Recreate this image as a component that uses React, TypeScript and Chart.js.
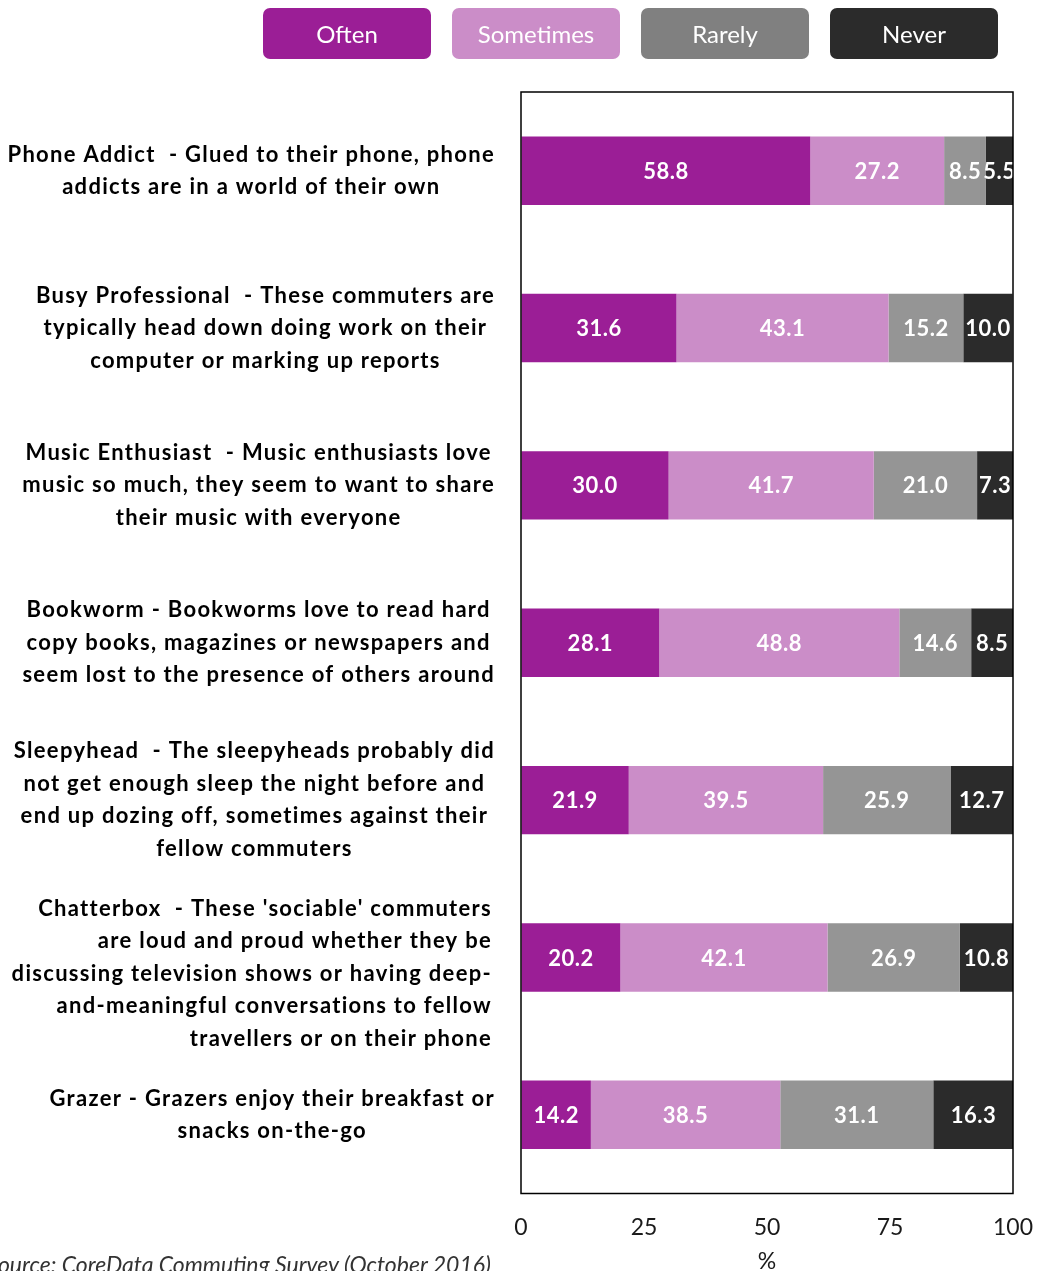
import React, { useEffect, useRef } from "react";
import { Chart, registerables } from "chart.js";
Chart.register(...registerables);

const categories: string[][] = [
  ["Phone Addict  - Glued to their phone, phone", "addicts are in a world of their own"],
  ["Busy Professional  - These commuters are", "typically head down doing work on their", "computer or marking up reports"],
  ["Music Enthusiast  - Music enthusiasts love", "music so much, they seem to want to share", "their music with everyone"],
  ["Bookworm - Bookworms love to read hard", "copy books, magazines or newspapers and", "seem lost to the presence of others around"],
  ["Sleepyhead  - The sleepyheads probably did", "not get enough sleep the night before and", "end up dozing off, sometimes against their", "fellow commuters"],
  ["", "Chatterbox  - These 'sociable' commuters", "are loud and proud whether they be", "discussing television shows or having deep-", "and-meaningful conversations to fellow", "travellers or on their phone"],
  ["Grazer - Grazers enjoy their breakfast or", "snacks on-the-go"],
];
const labelAlign = ["center", "center", "center", "center", "center", "right", "center"];

const often = [58.8, 31.6, 30.0, 28.1, 21.9, 20.2, 14.2];
const sometimes = [27.2, 43.1, 41.7, 48.8, 39.5, 42.1, 38.5];
const rarely = [8.5, 15.2, 21.0, 14.6, 25.9, 26.9, 31.1];
const never = [5.5, 10.0, 7.3, 8.5, 12.7, 10.8, 16.3];

const seriesNames = ["Often", "Sometimes", "Rarely", "Never"];
const barColors = ["#9B1E96", "#CB8DC8", "#959595", "#2B2B2B"];
const legendColors = ["#9B1E96", "#CB8DC8", "#808080", "#2B2B2B"];
const xTickValues = [0, 25, 50, 75, 100];
const axisTitle = "%";
const sourceText = "Source: CoreData Commuting Survey (October 2016)";

const CANVAS_W = 1038;
const CANVAS_H = 1280;

const framePlugin = {
  id: "frame",
  afterDraw(chart: any) {
    const { ctx, chartArea } = chart;
    ctx.save();
    ctx.strokeStyle = "#000";
    ctx.lineWidth = 1.5;
    ctx.strokeRect(chartArea.left, chartArea.top, chartArea.right - chartArea.left, chartArea.bottom - chartArea.top);
    ctx.restore();
  },
};

const valueLabelPlugin = {
  id: "valueLabels",
  afterDatasetsDraw(chart: any) {
    const { ctx, chartArea } = chart;
    ctx.save();
    ctx.beginPath();
    ctx.rect(chartArea.left, chartArea.top, chartArea.right - chartArea.left, chartArea.bottom - chartArea.top);
    ctx.clip();
    ctx.fillStyle = "#fff";
    ctx.font = "bold 22px Lato";
    try {
      (ctx as any).letterSpacing = "0.5px";
    } catch (e) {}
    ctx.textAlign = "center";
    ctx.textBaseline = "middle";
    chart.data.datasets.forEach((ds: any, di: number) => {
      const meta = chart.getDatasetMeta(di);
      meta.data.forEach((el: any, i: number) => {
        const v = ds.data[i];
        const cx = (el.x + el.base) / 2;
        ctx.fillText(Number(v).toFixed(1), cx, el.y + 1);
      });
    });
    ctx.restore();
  },
};

const yLabelPlugin = {
  id: "yLabels",
  afterDraw(chart: any) {
    const { ctx, chartArea } = chart;
    const yScale = chart.scales.y;
    ctx.save();
    ctx.fillStyle = "#000";
    ctx.font = "bold 22px Lato";
    try {
      (ctx as any).letterSpacing = "1.3px";
    } catch (e) {}
    ctx.textBaseline = "middle";
    const lineH = 32.5;
    const right = chartArea.left - 26;
    (chart.data.labels as string[][]).forEach((lines, i) => {
      const y = yScale.getPixelForTick(i);
      const top = y - ((lines.length - 1) * lineH) / 2;
      if (labelAlign[i] === "right") {
        ctx.textAlign = "right";
        lines.forEach((l, k) => ctx.fillText(l, right - 3, top + k * lineH));
      } else {
        ctx.textAlign = "center";
        const maxW = Math.max(...lines.map((l) => ctx.measureText(l).width));
        const cx = right - maxW / 2;
        lines.forEach((l, k) => ctx.fillText(l, cx, top + k * lineH));
      }
    });
    ctx.restore();
  },
};

export default function App() {
  const ref = useRef<HTMLCanvasElement | null>(null);

  useEffect(() => {
    if (!ref.current) return;
    const chart = new Chart(ref.current, {
      type: "bar",
      data: {
        labels: categories as any,
        datasets: [often, sometimes, rarely, never].map((d, i) => ({
          label: seriesNames[i],
          data: d,
          backgroundColor: barColors[i],
          borderWidth: 0,
          barPercentage: 0.435,
          categoryPercentage: 1,
        })),
      },
      options: {
        indexAxis: "y",
        responsive: false,
        animation: false,
        devicePixelRatio: 1,
        layout: { padding: { left: 521, right: 25, top: 92, bottom: 7 } },
        plugins: { legend: { display: false }, tooltip: { enabled: false } },
        scales: {
          x: {
            stacked: true,
            min: 0,
            max: 100,
            afterBuildTicks: (scale: any) => {
              scale.ticks = xTickValues.map((v) => ({ value: v }));
            },
            afterFit: (scale: any) => {
              scale.paddingLeft = 0;
              scale.paddingRight = 0;
            },
            grid: {
              display: true,
              drawOnChartArea: false,
              drawTicks: true,
              tickLength: 20,
              color: "rgba(0,0,0,0)",
            },
            border: { display: false },
            ticks: {
              color: "#1a1a1a",
              font: { family: "Lato", size: 23, lineHeight: 1 },
              padding: 3,
              maxRotation: 0,
            },
            title: {
              display: true,
              text: axisTitle,
              color: "#1a1a1a",
              font: { family: "Lato", size: 23, lineHeight: 1 },
              padding: { top: 7.5, bottom: 0 },
            },
          },
          y: {
            stacked: true,
            display: false,
          },
        },
      },
      plugins: [valueLabelPlugin, framePlugin, yLabelPlugin],
    } as any);
    return () => chart.destroy();
  }, []);

  return (
    <div style={{ position: "absolute", left: 0, top: 0, width: 1038, height: 1271, overflow: "hidden", background: "#fff" }}>
      <canvas ref={ref} width={CANVAS_W} height={CANVAS_H} style={{ position: "absolute", left: 0, top: 0, width: CANVAS_W, height: CANVAS_H }} />
      <div style={{ position: "absolute", left: 263, top: 8, display: "flex", gap: 21 }}>
        {seriesNames.map((n, i) => (
          <div
            key={n}
            style={{
              width: 168,
              height: 51,
              borderRadius: 7,
              background: legendColors[i],
              color: "#fff",
              fontFamily: "Lato",
              fontSize: 24,
              display: "flex",
              alignItems: "center",
              justifyContent: "center",
            }}
          >
            {n}
          </div>
        ))}
      </div>
      <div
        style={{
          position: "absolute",
          right: 1038 - 491,
          top: 1251,
          whiteSpace: "nowrap",
          fontFamily: "Lato",
          fontStyle: "italic",
          fontSize: 23,
          lineHeight: "26px",
          color: "#333",
        }}
      >
        {sourceText}
      </div>
    </div>
  );
}
